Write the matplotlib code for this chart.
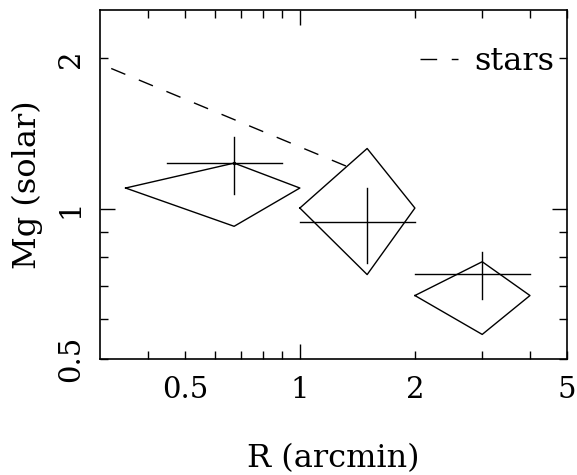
import matplotlib
matplotlib.use("Agg")
import matplotlib.pyplot as plt
from matplotlib.lines import Line2D
from matplotlib.ticker import FixedLocator, FixedFormatter

# stellar Mg profile (dashed line)
stars_r = [0.321, 1.332]
stars_mg = [1.909, 1.214]

# radial bins: diamond outlines (x: inner, mid, outer; y: side, top, bottom)
dia_x_in = [0.35, 1.0, 2.0]
dia_x_mid = [0.673, 1.5, 3.0]
dia_x_out = [1.0, 2.0, 4.0]
dia_y_side = [1.10, 1.003, 0.670]
dia_y_top = [1.234, 1.32, 0.783]
dia_y_bot = [0.922, 0.738, 0.560]

# error crosses
r_mid = [0.673, 1.5, 3.0]
r_lo = [0.45, 1.0, 2.0]
r_hi = [0.90, 2.0, 4.0]
mg_mid = [1.234, 0.939, 0.741]
mg_lo = [1.07, 0.779, 0.660]
mg_hi = [1.39, 1.10, 0.820]

x_labels = {0.5: "0.5", 2: "2", 5: "5"}
y_labels = {0.5: "0.5", 2: "2"}

plt.rcParams['font.family'] = ['DejaVu Serif']

fig = plt.figure(figsize=(5.77, 4.75), dpi=100)
ax = fig.add_axes([100 / 577, 116 / 475, 467 / 577, 349 / 475])
ax.set_xscale('log')
ax.set_yscale('log')
ax.set_xlim(0.3, 5)
ax.set_ylim(0.5, 2.5)

dash = (0, (11, 10.5))
ax.plot(stars_r, stars_mg, color='k', lw=1.0, linestyle=dash)

for i in range(len(dia_x_mid)):
    xs = [dia_x_in[i], dia_x_mid[i], dia_x_out[i], dia_x_mid[i], dia_x_in[i]]
    ys = [dia_y_side[i], dia_y_top[i], dia_y_side[i], dia_y_bot[i], dia_y_side[i]]
    ax.plot(xs, ys, color='k', lw=1.0)
    ax.plot([r_lo[i], r_hi[i]], [mg_mid[i], mg_mid[i]], color='k', lw=1.0)
    ax.plot([r_mid[i], r_mid[i]], [mg_lo[i], mg_hi[i]], color='k', lw=1.0)
ax.plot(r_mid[0], mg_mid[0], 'k.', ms=3)

# log ticks: long at the decade, short elsewhere, labels on chosen values
ax.xaxis.set_major_locator(FixedLocator([1]))
ax.xaxis.set_major_formatter(FixedFormatter(["1"]))
x_minor = [0.4, 0.5, 0.6, 0.7, 0.8, 0.9, 2, 3, 4, 5]
ax.xaxis.set_minor_locator(FixedLocator(x_minor))
ax.xaxis.set_minor_formatter(FixedFormatter([x_labels.get(v, "") for v in x_minor]))

ax.yaxis.set_major_locator(FixedLocator([1]))
ax.yaxis.set_major_formatter(FixedFormatter(["1"]))
y_minor = [0.5, 0.6, 0.7, 0.8, 0.9, 2]
ax.yaxis.set_minor_locator(FixedLocator(y_minor))
ax.yaxis.set_minor_formatter(FixedFormatter([y_labels.get(v, "") for v in y_minor]))

ax.tick_params(which='both', direction='in', top=True, right=True,
               labelsize=21, width=1.0, color='k')
ax.tick_params(which='major', length=10.5)
ax.tick_params(which='minor', length=5.5)
ax.tick_params(axis='x', which='both', pad=12)
ax.tick_params(axis='y', which='both', pad=11, labelrotation=90)
for lab in ax.get_yticklabels(which='both'):
    lab.set_va('center')

for s in ax.spines.values():
    s.set_linewidth(1.2)

fig.text(333 / 577, 1 - 459 / 475, "R (arcmin)", fontsize=23, ha='center', va='center')
fig.text(27 / 577, 1 - 185 / 475, "Mg (solar)", fontsize=23, ha='center', va='center',
         rotation=90)

key = Line2D([], [], color='k', lw=1.0, linestyle=(0, (12, 10.5)))
ax.legend([key], ['stars'], loc='center right', bbox_to_anchor=(0.972, 0.852),
          frameon=False, fontsize=23, handlelength=1.2, handletextpad=0.5,
          borderpad=0, borderaxespad=0)

fig.savefig("out.png", dpi=100)
